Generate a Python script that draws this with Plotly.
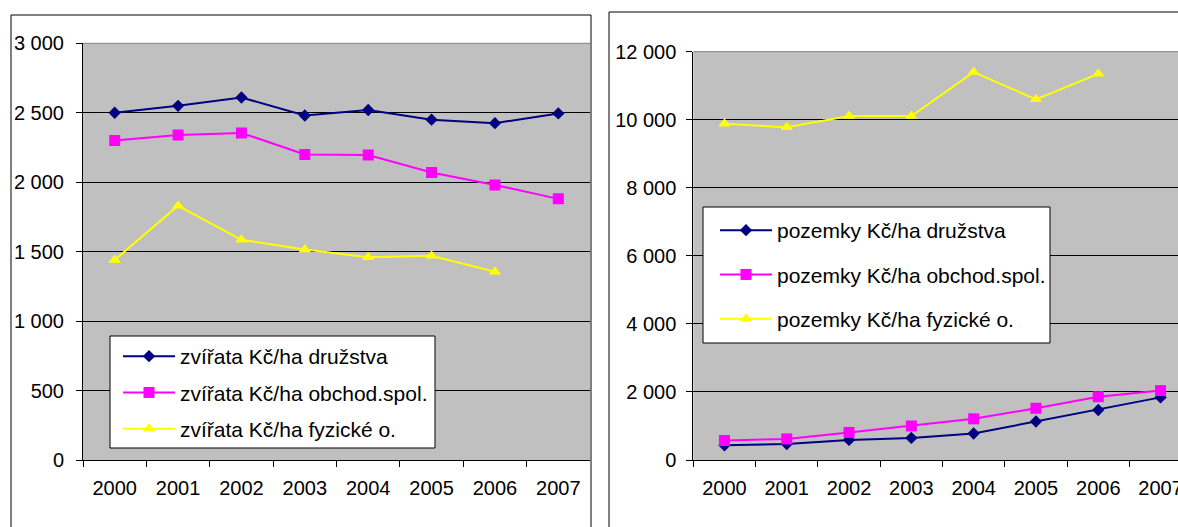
import plotly.graph_objects as go

W, H = 1178, 527

years = ["2000", "2001", "2002", "2003", "2004", "2005", "2006", "2007"]

# Livestock value per hectare (CZK/ha)
zvirata_druzstva = [2500, 2550, 2610, 2480, 2520, 2450, 2425, 2495]
zvirata_obchod = [2300, 2340, 2355, 2200, 2195, 2070, 1980, 1880]
zvirata_fyzicke = [1440, 1830, 1585, 1515, 1460, 1470, 1355, None]

# Land value per hectare (CZK/ha)
pozemky_druzstva = [430, 470, 590, 650, 780, 1130, 1470, 1840]
pozemky_obchod = [570, 620, 810, 1000, 1210, 1520, 1860, 2040]
pozemky_fyzicke = [9880, 9780, 10110, 10110, 11400, 10600, 11350, None]

left_names = ["zvířata Kč/ha družstva", "zvířata Kč/ha obchod.spol.", "zvířata Kč/ha fyzické o."]
right_names = ["pozemky Kč/ha družstva", "pozemky Kč/ha obchod.spol.", "pozemky Kč/ha fyzické o."]

left_ticks = [0, 500, 1000, 1500, 2000, 2500, 3000]
right_ticks = [0, 2000, 4000, 6000, 8000, 10000, 12000]

NAVY, MAGENTA, YELLOW = "#000080", "#FF00FF", "#FFFF00"
styles = [
    dict(color=NAVY, symbol="diamond", size=9.5),
    dict(color=MAGENTA, symbol="square", size=11),
    dict(color=YELLOW, symbol="triangle-up", size=11),
]
FONT = "Arial, Liberation Sans, sans-serif"
FS = 20
FS_LEG = 21


def px(x):
    return x / W


def py(y):
    return 1 - y / H


fig = go.Figure()

for i, (name, vals) in enumerate(zip(left_names, [zvirata_druzstva, zvirata_obchod, zvirata_fyzicke])):
    s = styles[i]
    fig.add_trace(go.Scatter(
        x=years, y=vals, name=name, mode="lines+markers",
        line=dict(color=s["color"], width=2),
        marker=dict(color=s["color"], symbol=s["symbol"], size=s["size"]),
        xaxis="x", yaxis="y", legend="legend", legendgroup=f"a{i}",
    ))

for i, (name, vals) in enumerate(zip(right_names, [pozemky_druzstva, pozemky_obchod, pozemky_fyzicke])):
    s = styles[i]
    fig.add_trace(go.Scatter(
        x=years, y=vals, name=name, mode="lines+markers",
        line=dict(color=s["color"], width=2),
        marker=dict(color=s["color"], symbol=s["symbol"], size=s["size"]),
        xaxis="x2", yaxis="y2", legend="legend2", legendgroup=f"b{i}",
    ))

axis_common = dict(
    showline=True, linecolor="black", linewidth=1,
    ticks="outside", ticklen=6, tickcolor="black",
    tickfont=dict(family=FONT, size=FS, color="black"),
    zeroline=False, automargin=False,
)

L0, L1 = 83, 590
R0 = 693.3
TOP_L, TOP_R, BOT = 43.3, 51.7, 460

legend_common = dict(
    xanchor="left", yanchor="top",
    bgcolor="rgba(0,0,0,0)", borderwidth=0,
    font=dict(family=FONT, size=FS_LEG, color="black"),
    itemwidth=52, traceorder="grouped",
)

fig.update_layout(
    width=W, height=H, autosize=False,
    margin=dict(l=0, r=0, t=0, b=0, autoexpand=False),
    paper_bgcolor="white", plot_bgcolor="#C0C0C0",
    separators=", ",
    showlegend=True,
    xaxis=dict(domain=[px(L0), px(L1)], anchor="y", type="category",
               range=[-0.5, 7.5], tickson="boundaries", showgrid=False,
               ticklabelstandoff=10, **axis_common),
    yaxis=dict(domain=[py(BOT), py(TOP_L)], anchor="x", range=[0, 3000],
               tickvals=left_ticks, tickformat=",d", showgrid=True,
               gridcolor="black", gridwidth=1, ticklabelstandoff=8,
               **axis_common),
    xaxis2=dict(domain=[px(R0), 1.0], anchor="y2", type="category",
                range=[-0.5, 7.28], tickson="boundaries", showgrid=False,
                ticklabelstandoff=10, **axis_common),
    yaxis2=dict(domain=[py(BOT), py(TOP_R)], anchor="x2", range=[0, 12000],
                tickvals=right_ticks, tickformat=",d", showgrid=True,
                gridcolor="black", gridwidth=1, ticklabelstandoff=6,
                **axis_common),
    legend=dict(x=px(118), y=py(336), tracegroupgap=6, **legend_common),
    legend2=dict(x=px(715), y=py(210), tracegroupgap=14, **legend_common),
    shapes=[
        # outer chart frames
        dict(type="rect", xref="paper", yref="paper",
             x0=px(11), x1=px(591), y0=py(540), y1=py(15),
             line=dict(color="black", width=1), fillcolor="rgba(0,0,0,0)", layer="above"),
        dict(type="rect", xref="paper", yref="paper",
             x0=px(609), x1=px(1200), y0=py(540), y1=py(12),
             line=dict(color="black", width=1), fillcolor="rgba(0,0,0,0)", layer="above"),
        # plot-area top borders
        dict(type="line", xref="x domain", yref="y domain", x0=0, x1=1, y0=1, y1=1,
             line=dict(color="#808080", width=1), layer="below"),
        dict(type="line", xref="x2 domain", yref="y2 domain", x0=0, x1=1, y0=1, y1=1,
             line=dict(color="#808080", width=1), layer="below"),
        # legend boxes
        dict(type="rect", xref="paper", yref="paper",
             x0=px(110), x1=px(435), y0=py(448), y1=py(336),
             line=dict(color="black", width=1), fillcolor="white", layer="above"),
        dict(type="rect", xref="paper", yref="paper",
             x0=px(703), x1=px(1050), y0=py(343), y1=py(207),
             line=dict(color="black", width=1), fillcolor="white", layer="above"),
    ],
)

fig.write_html("out.html")
